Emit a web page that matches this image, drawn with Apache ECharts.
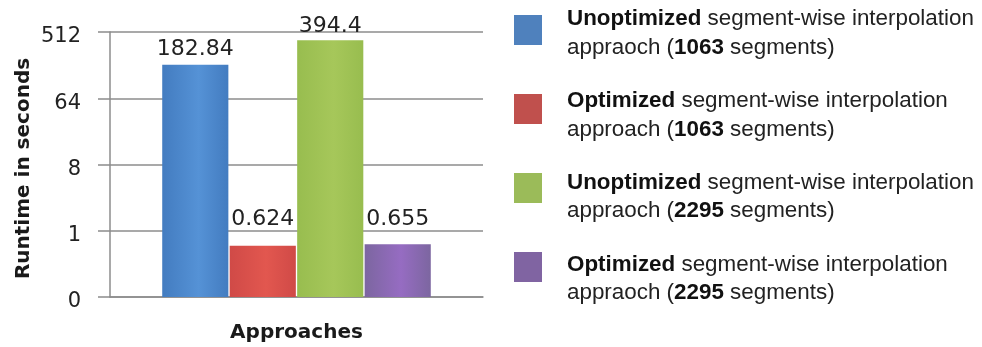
<!DOCTYPE html>
<html>
<head>
<meta charset="utf-8">
<script src="https://cdn.jsdelivr.net/npm/echarts@6/dist/echarts.min.js"></script>
<style>html,body{margin:0;padding:0;background:#fff;}#c{width:982px;height:347px;}</style>
</head>
<body>
<div id="c"></div>
<script>
const categories = ['Approaches'];
const seriesBold = ['Unoptimized', 'Optimized', 'Unoptimized', 'Optimized'];
const seriesWord = ['appraoch', 'approach', 'appraoch', 'appraoch'];
const seriesSegments = ['1063', '1063', '2295', '2295'];
const seriesValues = [182.84, 0.624, 394.4, 0.655];
const seriesColors = ['#4F81BD', '#C0504D', '#9BBB59', '#8064A2'];
const seriesEdge = ['#437cc0', '#d04a47', '#98bd4f', '#7c66a0'];
const seriesMid = ['#5592d6', '#e2574f', '#a6c75a', '#966cc2'];
const labelGaps = [5, 15, 3, 14];
const yTickValues = [0.125, 1, 8, 64, 512];

const names = seriesBold.map((b, i) => b + ' segment-wise interpolation ' + seriesWord[i] + ' (' + seriesSegments[i] + ' segments)');
const fontChart = '"DejaVu Sans", sans-serif';
const fontLegend = '"Liberation Sans", Arial, sans-serif';

function barFill(i) {
  return new echarts.graphic.LinearGradient(0, 0, 1, 0, [
    {offset: 0, color: seriesEdge[i]},
    {offset: 0.55, color: seriesMid[i]},
    {offset: 1, color: seriesEdge[i]}
  ]);
}

const chart = echarts.init(document.getElementById('c'), null, {renderer: 'canvas'});
chart.setOption({
  animation: false,
  backgroundColor: '#ffffff',
  grid: {left: 110, right: 499, top: 32, bottom: 50, containLabel: false, outerBoundsMode: 'none'},
  legend: [
    {
      orient: 'vertical',
      left: 514,
      top: 15,
      padding: 0,
      itemWidth: 28,
      itemHeight: 30,
      itemGap: 49,
      icon: 'rect',
      selectedMode: false,
      data: names.map((n, i) => ({name: n, itemStyle: {color: seriesColors[i]}})),
      formatter: function () { return ''; },
      textStyle: {fontSize: 1}
    },
    {
      orient: 'vertical',
      left: 562,
      top: 5,
      padding: 0,
      itemWidth: 0,
      itemHeight: 30,
      itemGap: 24.7,
      icon: 'none',
      selectedMode: false,
      data: names,
      formatter: function (name) {
        const i = names.indexOf(name);
        return '{b|' + seriesBold[i] + '} segment-wise interpolation\n' + seriesWord[i] + ' ({b|' + seriesSegments[i] + '} segments)';
      },
      textStyle: {
        fontFamily: fontLegend, fontSize: 22.4, lineHeight: 28.5, color: '#222',
        rich: {b: {fontFamily: fontLegend, fontSize: 22.4, lineHeight: 28.5, fontWeight: 'bold', color: '#111'}}
      }
    }
  ],
  xAxis: {
    type: 'category',
    data: categories,
    name: 'Approaches',
    nameLocation: 'middle',
    nameGap: 26,
    nameTextStyle: {fontFamily: fontChart, fontSize: 20, fontWeight: 'bold', color: '#1a1a1a'},
    axisLine: {lineStyle: {color: '#8c8c8c', width: 1.5}},
    axisTick: {show: false},
    axisLabel: {show: false}
  },
  yAxis: {
    type: 'log',
    logBase: 8,
    min: yTickValues[0],
    max: yTickValues[yTickValues.length - 1],
    startValue: yTickValues[0],
    name: 'Runtime in seconds',
    nameLocation: 'middle',
    nameRotate: 90,
    nameGap: 76,
    nameTextStyle: {fontFamily: fontChart, fontSize: 20, fontWeight: 'bold', color: '#1a1a1a', padding: [0, 8, 0, 0]},
    axisLine: {show: true, lineStyle: {color: '#8c8c8c', width: 1.5}},
    axisTick: {show: true, inside: false, length: 12, lineStyle: {color: '#8c8c8c', width: 1.5}},
    axisLabel: {
      margin: 29, color: '#222',
      formatter: function (v) { return '{t|' + (v < 1 ? '0' : String(Math.round(v))) + '}'; },
      rich: {t: {fontFamily: fontChart, fontSize: 21, color: '#222', padding: [10, 0, 0, 0]}}
    },
    splitLine: {show: true, lineStyle: {color: '#8c8c8c', width: 1.5}}
  },
  series: names.map((n, i) => ({
    type: 'bar',
    name: n,
    data: [seriesValues[i]],
    barGap: '2%',
    barCategoryGap: '28%',
    itemStyle: {color: barFill(i)},
    label: {
      show: true, position: 'top', distance: labelGaps[i],
      fontFamily: fontChart, fontSize: 22, color: '#222',
      formatter: function (p) { return String(p.value); }
    }
  }))
});
</script>
</body>
</html>
